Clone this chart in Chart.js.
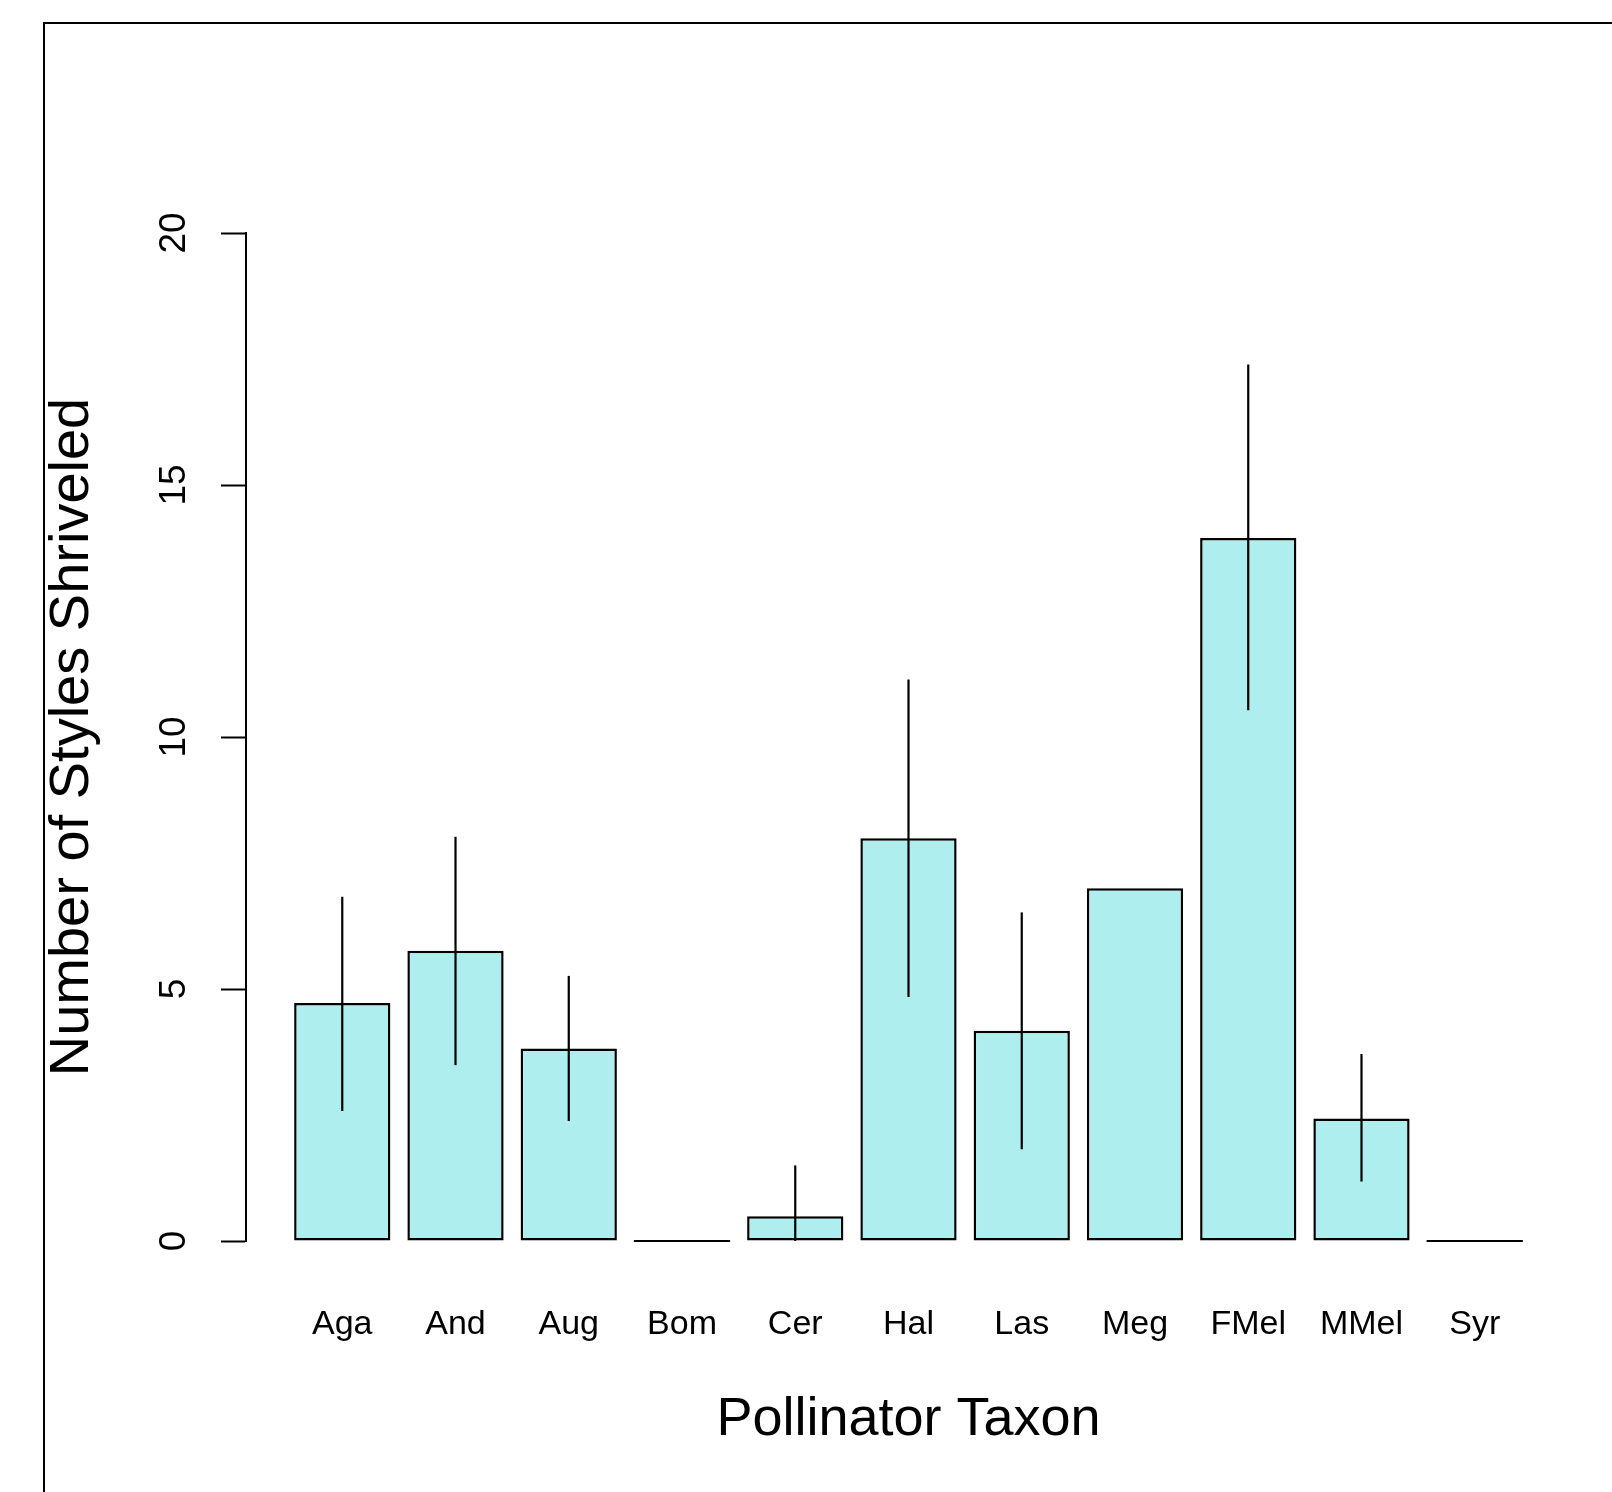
<!DOCTYPE html>
<html>
<head>
<meta charset="utf-8">
<title>Number of Styles Shriveled by Pollinator Taxon</title>
<script src="https://cdn.jsdelivr.net/npm/chart.js@4"></script>
<style>
    html, body { margin: 0; padding: 0; background: #ffffff; overflow: hidden; }
    #frame {
        position: absolute;
        left: 43px;
        top: 22px;
        width: 1700px;
        height: 1600px;
        border-left: 2px solid #000;
        border-top: 2px solid #000;
    }
    #chart { position: absolute; left: 0; top: 0; }
</style>
</head>
<body>
<div id="frame"></div>
<canvas id="chart" width="1612" height="1492"></canvas>
<script>
// Pollinator taxa along the x axis
const taxa = ['Aga', 'And', 'Aug', 'Bom', 'Cer', 'Hal', 'Las', 'Meg', 'FMel', 'MMel', 'Syr'];

// Mean number of styles shriveled (bar heights)
const shriveled = [4.72, 5.76, 3.82, 0, 0.49, 7.99, 4.17, 7.0, 13.95, 2.43, 0];

// Error bar ends (null = no error bar drawn)
const errLow  = [2.58, 3.49, 2.38, null, 0, 4.84, 1.82, null, 10.53, 1.18, null];
const errHigh = [6.83, 8.02, 5.26, null, 1.50, 11.14, 6.52, null, 17.39, 3.71, null];

// y axis ticks
const yTicks = [0, 5, 10, 15, 20];

const FONT = '"Liberation Sans", Arial, Helvetica, sans-serif';

// R barplot layout: width 1, space 0.2 -> bar centres at 0.7, 1.9, 3.1 ...
const barX = taxa.map((t, i) => 0.7 + 1.2 * i);

// Error bars + flat lines for zero-height bars, positioned via the chart's scales
const errorBarPlugin = {
    id: 'errorBars',
    afterDatasetsDraw(chart) {
        const ctx = chart.ctx;
        const yScale = chart.scales.y;
        const meta = chart.getDatasetMeta(0);
        ctx.save();
        ctx.strokeStyle = '#000';
        ctx.lineWidth = 2.2;
        meta.data.forEach((bar, i) => {
            if (shriveled[i] === 0) {
                const y0 = yScale.getPixelForValue(0);
                ctx.beginPath();
                ctx.moveTo(bar.x - bar.width / 2, y0);
                ctx.lineTo(bar.x + bar.width / 2, y0);
                ctx.stroke();
            }
            if (errLow[i] === null || errHigh[i] === null) return;
            ctx.beginPath();
            ctx.moveTo(bar.x, yScale.getPixelForValue(errLow[i]));
            ctx.lineTo(bar.x, yScale.getPixelForValue(errHigh[i]));
            ctx.stroke();
        });
        ctx.restore();
    }
};

new Chart(document.getElementById('chart'), {
    type: 'bar',
    data: {
        datasets: [{
            data: shriveled.map((v, i) => ({ x: barX[i], y: v })),
            backgroundColor: '#AFEEEE',
            borderColor: '#000000',
            borderWidth: 2.5,
            borderSkipped: false,
            categoryPercentage: 1,
            barPercentage: 0.85
        }]
    },
    options: {
        responsive: false,
        animation: false,
        devicePixelRatio: 1,
        layout: {
            padding: { top: 233, right: 41, bottom: 0, left: 0 }
        },
        plugins: {
            legend: { display: false },
            tooltip: { enabled: false }
        },
        scales: {
            x: {
                type: 'linear',
                offset: false,
                min: -0.32,
                max: 13.72,
                grid: { display: false, drawTicks: false },
                border: { display: false },
                afterBuildTicks: scale => {
                    scale.ticks = barX.map(v => ({ value: v }));
                },
                afterFit: scale => { scale.height = 251; },
                ticks: {
                    autoSkip: false,
                    maxRotation: 0,
                    minRotation: 0,
                    padding: 63,
                    color: '#000',
                    font: { size: 34, family: FONT },
                    callback: (value, index) => taxa[index]
                },
                title: {
                    display: true,
                    text: 'Pollinator Taxon',
                    color: '#000',
                    font: { size: 54, family: FONT },
                    padding: { top: 0, bottom: 39 }
                }
            },
            y: {
                min: 0,
                max: 20,
                afterBuildTicks: scale => {
                    scale.ticks = yTicks.map(v => ({ value: v }));
                },
                afterFit: scale => { scale.width = 246; },
                grid: {
                    drawOnChartArea: false,
                    drawTicks: true,
                    tickLength: 25,
                    tickWidth: 2,
                    tickColor: '#000'
                },
                border: { display: true, color: '#000', width: 2 },
                ticks: {
                    minRotation: 90,
                    maxRotation: 90,
                    crossAlign: 'center',
                    padding: 26,
                    color: '#000',
                    font: { size: 37, family: FONT }
                },
                title: {
                    display: true,
                    text: 'Number of Styles Shriveled',
                    color: '#000',
                    font: { size: 56, family: FONT },
                    padding: { top: 39, bottom: 0 }
                }
            }
        }
    },
    plugins: [errorBarPlugin]
});
</script>
</body>
</html>
